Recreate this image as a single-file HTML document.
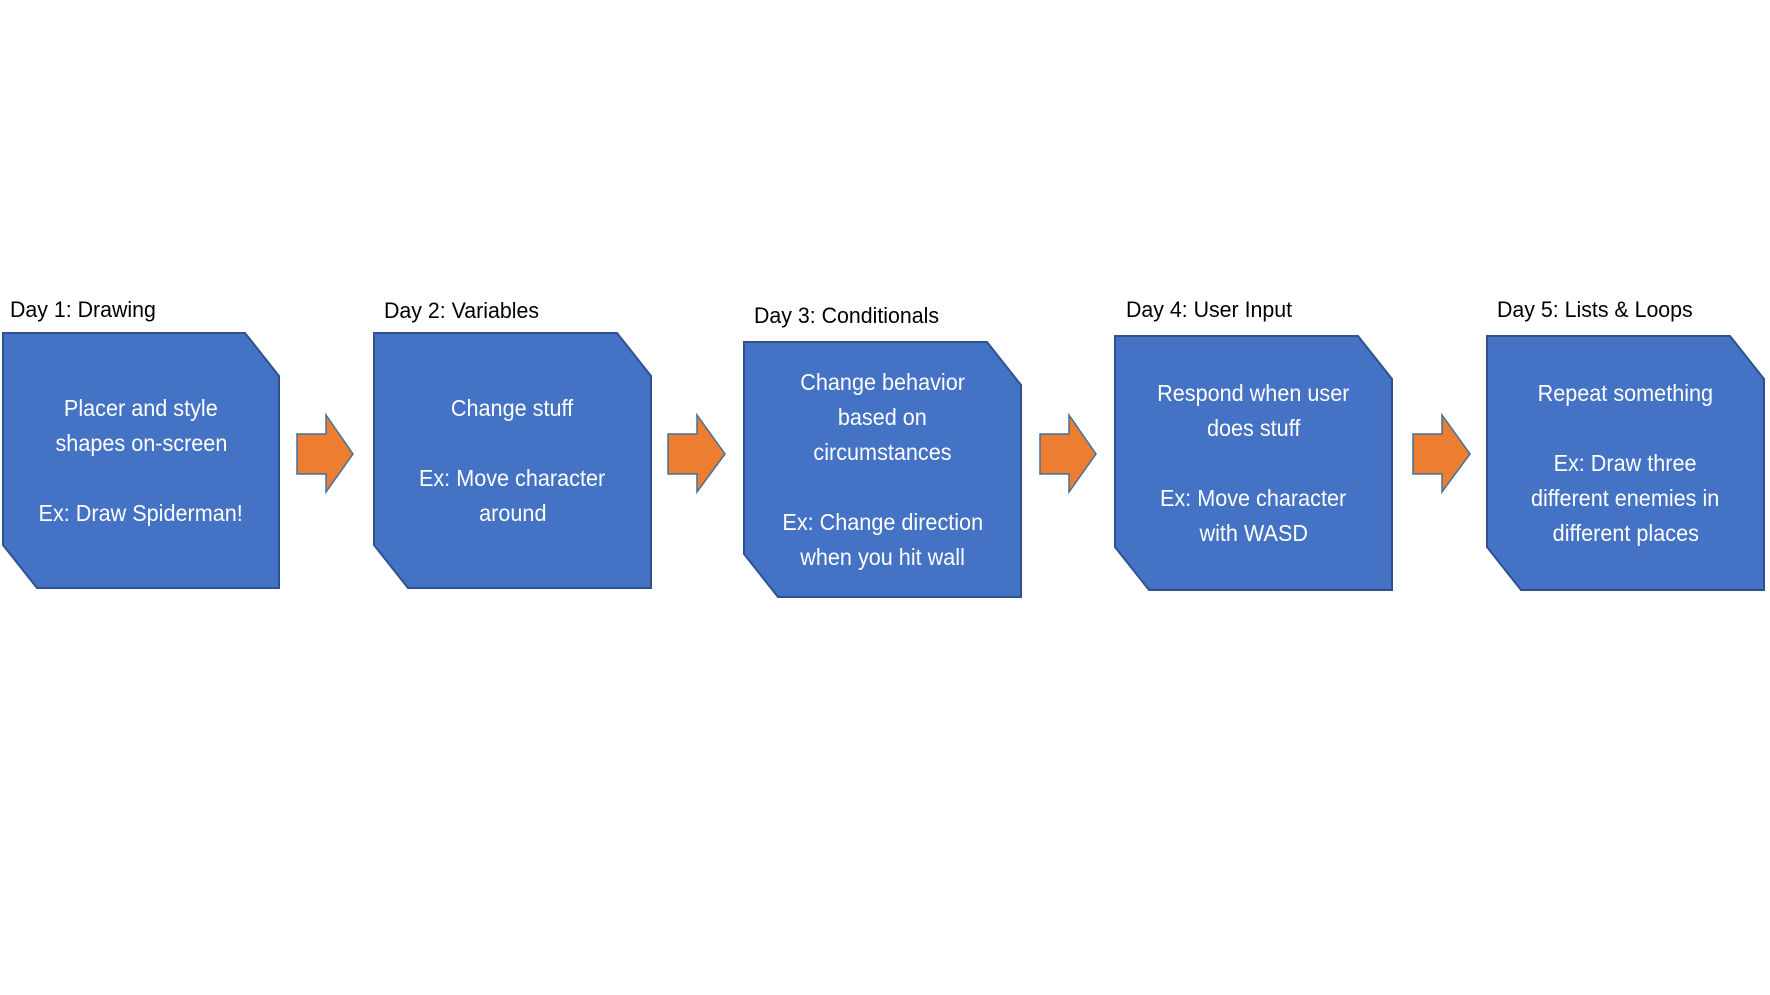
<!DOCTYPE html>
<html><head><style>
html,body{margin:0;padding:0;background:#fff;}
body{width:1770px;height:995px;position:relative;overflow:hidden;font-family:"Liberation Sans",sans-serif;}
.lbl{position:absolute;font-size:22px;color:#000;white-space:nowrap;transform:scaleX(0.97);transform-origin:left center;line-height:26px;}
.txt{position:absolute;display:flex;align-items:center;justify-content:center;text-align:center;color:#fff;font-size:23px;line-height:35px;}
.txt span{display:inline-block;transform:scaleX(0.94);white-space:nowrap;}
</style></head><body>
<svg width="1770" height="995" style="position:absolute;left:0;top:0">
<g fill="#4472C4" stroke="#2F528F" stroke-width="2">
<polygon points="3,333 245,333 279,376 279,588 37,588 3,545"/>
<polygon points="374,333 617,333 651,376 651,588 408,588 374,545"/>
<polygon points="744,342 987,342 1021,385 1021,597 778,597 744,554"/>
<polygon points="1115,336 1358,336 1392,379 1392,590 1149,590 1115,547"/>
<polygon points="1487,336 1730,336 1764,379 1764,590 1521,590 1487,547"/>
</g>
<g fill="#ED7D31" stroke="#41719C" stroke-width="1.5">
<polygon points="297,434 326,434 326,415 353,454 326,492 326,474 297,474"/>
<polygon points="668,434 697,434 697,415 725,454 697,492 697,474 668,474"/>
<polygon points="1040,434 1069,434 1069,415 1096,454 1069,492 1069,474 1040,474"/>
<polygon points="1413,434 1442,434 1442,415 1470,454 1442,492 1442,474 1413,474"/>
</g>
</svg>
<div class="lbl" style="left:10px;top:297px">Day 1: Drawing</div>
<div class="lbl" style="left:384px;top:298px">Day 2: Variables</div>
<div class="lbl" style="left:754px;top:303px">Day 3: Conditionals</div>
<div class="lbl" style="left:1126px;top:297px">Day 4: User Input</div>
<div class="lbl" style="left:1497px;top:297px">Day 5: Lists &amp; Loops</div>

<div class="txt" style="left:3px;top:333px;width:276px;height:255px"><div><span>Placer and style</span><br><span>shapes on-screen</span><br><br><span>Ex: Draw Spiderman!</span></div></div>
<div class="txt" style="left:374px;top:333px;width:277px;height:255px"><div><span>Change stuff</span><br><br><span>Ex: Move character</span><br><span>around</span></div></div>
<div class="txt" style="left:744px;top:342px;width:277px;height:255px"><div><span>Change behavior</span><br><span>based on</span><br><span>circumstances</span><br><br><span>Ex: Change direction</span><br><span>when you hit wall</span></div></div>
<div class="txt" style="left:1115px;top:336px;width:277px;height:254px"><div><span>Respond when user</span><br><span>does stuff</span><br><br><span>Ex: Move character</span><br><span>with WASD</span></div></div>
<div class="txt" style="left:1487px;top:336px;width:277px;height:254px"><div><span>Repeat something</span><br><br><span>Ex: Draw three</span><br><span>different enemies in</span><br><span>different places</span></div></div>
</body></html>
